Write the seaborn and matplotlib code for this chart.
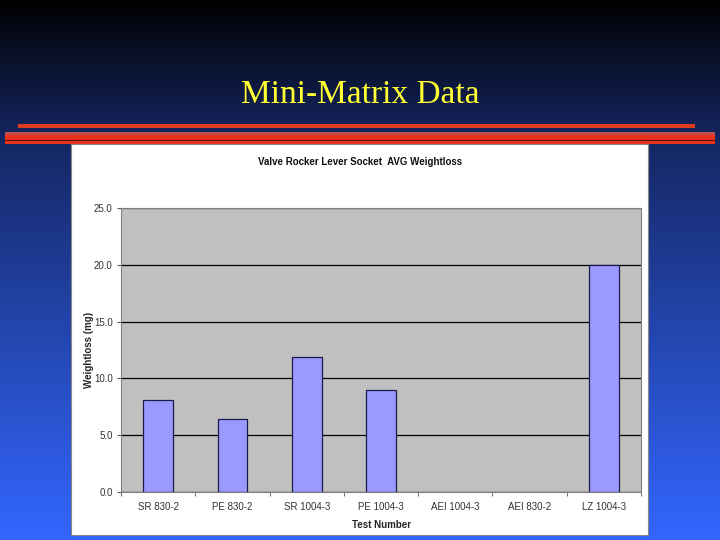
import numpy as np
import pandas as pd
import matplotlib
matplotlib.use("Agg")
from matplotlib import pyplot as plt
from matplotlib.patches import Rectangle
import seaborn as sns

# chart data
tests = ["SR 830-2", "PE 830-2", "SR 1004-3", "PE 1004-3", "AEI 1004-3", "AEI 830-2", "LZ 1004-3"]
weightloss = [8.1, 6.4, 11.9, 9.0, np.nan, np.nan, 20.0]
y_ticks = [0.0, 5.0, 10.0, 15.0, 20.0, 25.0]

df = pd.DataFrame({"test": tests, "weightloss": weightloss})

sns.set_style("white")
plt.rcParams["font.family"] = ["Liberation Sans", "DejaVu Sans"]

W, H = 720, 540
fig = plt.figure(figsize=(7.2, 5.4), dpi=100)

# slide background: black at top fading to blue
bg = fig.add_axes([0, 0, 1, 1], zorder=0)
grad = np.linspace(0, 1, 256)
top = np.array([0.0, 0.0, 0.0])
mid = np.array([0.08, 0.15, 0.38])
bot = np.array([0.20, 0.40, 1.0])
cols = np.where(grad[:, None] < 0.25,
                top + (mid - top) * (grad[:, None] / 0.25),
                mid + (bot - mid) * ((grad[:, None] - 0.25) / 0.75))
bg.imshow(cols[:, None, :], aspect="auto", extent=[0, 1, 0, 1], origin="upper")
bg.set_xlim(0, 1)
bg.set_ylim(0, 1)
bg.axis("off")

def fx(px):
    return px / W

def fy(py):
    return 1 - py / H

# slide title
bg.text(0.5, fy(95), "Mini-Matrix Data", color="#ffff33", ha="center", va="center",
        fontsize=24, family=["Liberation Serif", "DejaVu Serif"])

# red rules under title
bg.add_patch(Rectangle((fx(18), fy(128)), fx(695) - fx(18), 4 / H, color="#e03a1e", lw=0))
bg.add_patch(Rectangle((fx(5), fy(144)), fx(715) - fx(5), 12 / H, color="#e8321a", lw=0))
bg.add_patch(Rectangle((fx(5), fy(135)), fx(715) - fx(5), 3 / H, color="#c0504d", lw=0))
bg.add_patch(Rectangle((fx(5), fy(141)), fx(715) - fx(5), 1 / H, color="#5a1010", lw=0))

# white chart panel
bg.add_patch(Rectangle((fx(71), fy(535)), fx(648) - fx(71), (535 - 144) / H,
                       facecolor="white", edgecolor="#888888", lw=0.8))

ax = fig.add_axes([fx(121), fy(492), fx(641) - fx(121), (492 - 208) / H], zorder=2)
ax.set_facecolor("#c0c0c0")
sns.barplot(data=df, x="test", y="weightloss", ax=ax, color="#9999ff",
            saturation=1, width=0.4, edgecolor="#1a1a4d", linewidth=0.9)
ax.set_ylim(0, 25)
ax.set_xlim(-0.5, len(tests) - 0.5)
ax.set_yticks(y_ticks)
ax.set_yticklabels([f"{t:.1f}" for t in y_ticks], fontsize=7, color="#333333")
ax.set_xticks(range(len(tests)))
ax.set_xticklabels(tests, fontsize=7, color="#333333")
# category boundary ticks, Excel style
ax.set_xticks(np.arange(-0.5, len(tests), 1.0), minor=True)
ax.tick_params(axis="x", which="major", length=0, pad=7)
ax.tick_params(axis="x", which="minor", length=3, color="#555555", bottom=True)
ax.tick_params(axis="y", length=3, color="#555555", pad=3, left=True)
ax.yaxis.grid(True, color="black", lw=0.9)
ax.set_axisbelow(True)
for s in ["top", "right", "left", "bottom"]:
    ax.spines[s].set_color("#808080")
    ax.spines[s].set_linewidth(0.8)
ax.set_xlabel("Test Number", fontsize=7, fontweight="bold", labelpad=6)
ax.set_ylabel("Weightloss (mg)", fontsize=7, fontweight="bold", labelpad=0)

fig.text(0.5, fy(162), "Valve Rocker Lever Socket  AVG Weightloss", ha="center",
         va="center", fontsize=7, fontweight="bold", color="#111111", zorder=3)

fig.savefig("out.png", dpi=100)
